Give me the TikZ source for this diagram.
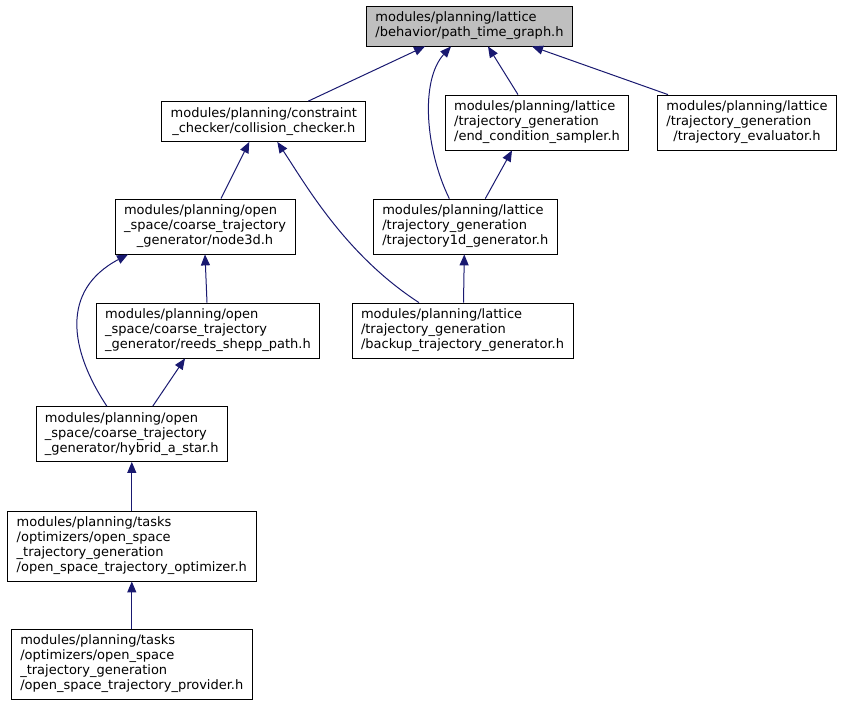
\documentclass[tikz,border=0pt]{standalone}
\usepackage{fontspec}
\setmainfont{DejaVu Sans}
\usetikzlibrary{arrows.meta}
\definecolor{edgeblue}{HTML}{191970}
\definecolor{rootgray}{HTML}{BFBFBF}
% lines left aligned, last line centred
\newcommand{\flines}[2]{\begin{tabular}{@{}l@{}}#1\\\multicolumn{1}{@{}c@{}}{#2}\end{tabular}}

\begin{document}
\begin{tikzpicture}[
  x=1pt,y=-1pt,
  every node/.style={font=\fontsize{13}{15}\selectfont},
  filenode/.style={draw,line width=0.8pt,fill=white,inner xsep=9pt,inner ysep=5pt},
  arr/.style={-{Triangle[length=11pt,width=9pt]},edgeblue,line width=1pt}
]
\useasboundingbox (0,0) rectangle (843,705);

% Root
\node[filenode,fill=rootgray] (top) at (469.5,26) {\flines{modules/planning/lattice}{/behavior/path\_time\_graph.h}};

% Second rank
\node[filenode] (coll) at (263.8,121.5) {\flines{modules/planning/constraint}{\_checker/collision\_checker.h}};
\node[filenode] (endc) at (537,122.5) {\flines{modules/planning/lattice\\/trajectory\_generation}{/end\_condition\_sampler.h}};
\node[filenode] (eval) at (747,122.5) {\flines{modules/planning/lattice\\/trajectory\_generation}{/trajectory\_evaluator.h}};

% Third rank
\node[filenode] (n3d) at (205,226.5) {\flines{modules/planning/open\\\_space/coarse\_trajectory}{\_generator/node3d.h}};
\node[filenode] (t1d) at (465.3,226.5) {\flines{modules/planning/lattice\\/trajectory\_generation}{/trajectory1d\_generator.h}};

% Fourth rank
\node[filenode] (rs) at (208,330.5) {\flines{modules/planning/open\\\_space/coarse\_trajectory}{\_generator/reeds\_shepp\_path.h}};
\node[filenode] (bk) at (462.5,330.5) {\flines{modules/planning/lattice\\/trajectory\_generation}{/backup\_trajectory\_generator.h}};

% Lower chain
\node[filenode] (ha) at (131.8,434) {\flines{modules/planning/open\\\_space/coarse\_trajectory}{\_generator/hybrid\_a\_star.h}};
\node[filenode] (opt) at (131.8,546) {\flines{modules/planning/tasks\\/optimizers/open\_space\\\_trajectory\_generation}{/open\_space\_trajectory\_optimizer.h}};
\node[filenode] (prov) at (131.8,664) {\flines{modules/planning/tasks\\/optimizers/open\_space\\\_trajectory\_generation}{/open\_space\_trajectory\_provider.h}};

% Edges into root
\draw[arr] ([xshift=44.5pt]coll.north) -- ([xshift=-44.5pt]top.south);
\draw[arr] ([xshift=-16pt]t1d.north) .. controls +(-24,-49) and +(-31,34) .. ([xshift=-18.5pt]top.south);
\draw[arr] ([xshift=-19pt]endc.north) -- ([xshift=18.5pt]top.south);
\draw[arr] ([xshift=-79pt]eval.north) -- ([xshift=62.5pt]top.south);

% Edges into collision checker
\draw[arr] ([xshift=16pt]n3d.north) -- ([xshift=-14.5pt]coll.south);
\draw[arr] ([xshift=-43.5pt]bk.north) .. controls +(-74,-48) and +(28,42) .. ([xshift=13.5pt]coll.south);

% Lattice chain
\draw[arr] ([xshift=20pt]t1d.north) -- ([xshift=-25pt]endc.south);
\draw[arr] ([xshift=1pt]bk.north) -- ([xshift=-1pt]t1d.south);

% Open space chain
\draw[arr] ([xshift=-1pt]rs.north) -- (n3d.south);
\draw[arr] ([xshift=-25pt]ha.north) .. controls +(-37,-56) and +(-68,36) .. ([xshift=-77pt]n3d.south);
\draw[arr] ([xshift=21pt]ha.north) -- ([xshift=-23pt]rs.south);
\draw[arr] (opt.north) -- (ha.south);
\draw[arr] (prov.north) -- (opt.south);
\end{tikzpicture}
\end{document}
